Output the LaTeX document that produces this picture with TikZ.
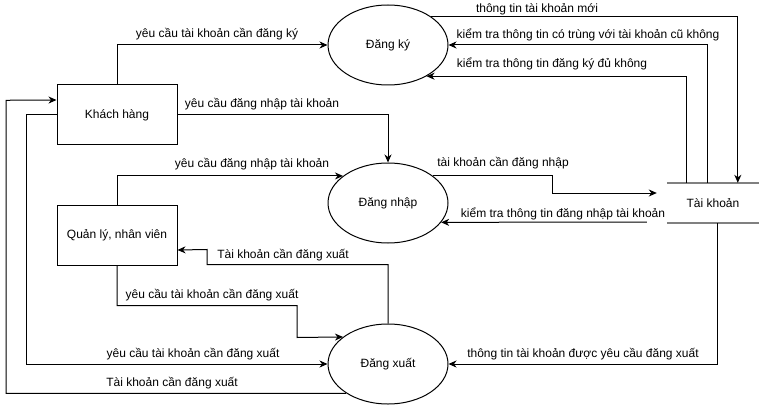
\documentclass[tikz,border=0pt]{standalone}
\usepackage{fontspec}
\setmainfont{Liberation Sans}
\usetikzlibrary{shapes.geometric,arrows.meta}
\definecolor{storegray}{RGB}{128,128,128}
\begin{document}
\begin{tikzpicture}[x=1pt,y=-1pt,
  every node/.style={font=\fontsize{12}{14}\selectfont},
  proc/.style={draw, ellipse, line width=1pt, minimum width=120pt, minimum height=80pt, inner sep=0pt, font=\fontsize{12}{14}\selectfont},
  ent/.style={draw, rectangle, line width=1pt, minimum width=120pt, minimum height=60pt, inner sep=0pt, font=\fontsize{12}{14}\selectfont},
  lbl/.style={inner sep=0pt, font=\fontsize{12}{14}\selectfont},
  arr/.style={line width=1pt, -{Stealth[length=8pt,width=7pt,inset=2.5pt]}},
  storeline/.style={draw=storegray, line width=2pt}]
\useasboundingbox (0,0) rectangle (759,406);

% nodes
\node[proc] (dky) at (388,45) {Đăng ký};
\node[proc] (dnhap) at (388,203) {Đăng nhập};
\node[proc] (dxuat) at (388,364) {Đăng xuất};
\node[ent] (kh) at (117,115) {Khách hàng};
\node[ent] (ql) at (117,235) {Quản lý, nhân viên};
\node[minimum width=92pt, minimum height=40pt, inner sep=0pt, font=\fontsize{12}{14}\selectfont] (tk) at (713,203) {Tài khoản};
\draw[storeline] (tk.north west) -- (tk.north east);
\draw[storeline] (tk.south west) -- (tk.south east);

% connectors
\draw[arr] (kh.north) |- (dky.west);
\draw[arr] (kh.east) -| (dnhap.north);
\draw[arr] (ql.north) |- (dnhap.149);
\draw[arr] (dnhap.31) -- ++(119,0) |- ([xshift=-10pt,yshift=10pt]tk.west);
\draw[arr] ([xshift=-20pt,yshift=-19pt]tk.west) -- (dnhap.-20);
\draw[arr] (dky.33) -| ([xshift=71pt]tk.north west);
\draw[arr] ([xshift=41pt]tk.north west) |- (dky.east);
\draw[arr] ([xshift=20pt]tk.north west) |- (dky.-39);
\draw[arr] ([xshift=51pt]tk.south west) |- (dxuat.east);
\draw[arr] (dxuat.north) -- ++(0,-59) -| ++(-181,-15) -- ([yshift=-15pt]ql.east);
\draw[arr] (ql.south) -- ++(0,40) -| ++(180,32) -- (dxuat.149);
\draw[arr] (kh.west) -- ++(-30,0) |- (dxuat.west);
\draw[arr] (dxuat.215) -| ++(-340,-293) -- ([yshift=15pt]kh.west);

% labels
\node[lbl] (l1) at (217,34) {yêu cầu tài khoản cần đăng ký};
\node[lbl] (l2) at (262,104) {yêu cầu đăng nhập tài khoản};
\node[lbl] (l3) at (252,164) {yêu cầu đăng nhập tài khoản};
\node[lbl] (l4) at (537,9) {thông tin tài khoản mới};
\node[lbl] (l5) at (588,35) {kiểm tra thông tin có trùng với tài khoản cũ không};
\node[lbl] (l6) at (552,64) {kiểm tra thông tin đăng ký đủ không};
\node[lbl] (l7) at (503,163) {tài khoản cần đăng nhập};
\node[lbl] (l8) at (563,214) {kiểm tra thông tin đăng nhập tài khoản};
\node[lbl] (l9) at (583,354) {thông tin tài khoản được yêu cầu đăng xuất};
\node[lbl] (l10) at (283,255) {Tài khoản cần đăng xuất};
\node[lbl] (l11) at (212,295) {yêu cầu tài khoản cần đăng xuất};
\node[lbl] (l12) at (193,354) {yêu cầu tài khoản cần đăng xuất};
\node[lbl] (l13) at (172,383) {Tài khoản cần đăng xuất};
\end{tikzpicture}
\end{document}
